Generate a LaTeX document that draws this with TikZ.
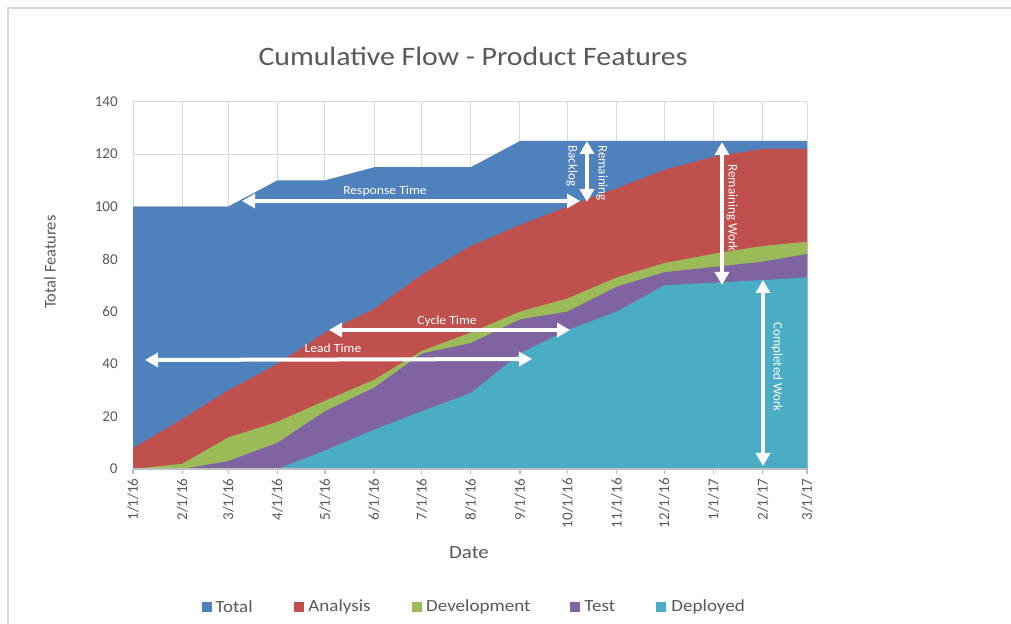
\documentclass[tikz,border=0pt]{standalone}
\usepackage{fontspec}
\setmainfont{Carlito}
\usetikzlibrary{arrows.meta}
\definecolor{cTotal}{HTML}{4F81BD}
\definecolor{cAna}{HTML}{C0504D}
\definecolor{cDev}{HTML}{9BBB59}
\definecolor{cTest}{HTML}{8064A2}
\definecolor{cDep}{HTML}{4BACC6}
\definecolor{txtgray}{HTML}{595959}
\definecolor{gridgray}{HTML}{D9D9D9}
\definecolor{axisgray}{HTML}{BFBFBF}
\definecolor{framegray}{HTML}{D6D6D6}
\begin{document}
\begin{tikzpicture}[x=0.5pt,y=-0.5pt,
  whitearrow/.style={draw=white, line width=2pt,
    {Triangle[length=6.5pt,width=7pt]}-{Triangle[length=6.5pt,width=7pt]}},
  annot/.style={text=white, font=\fontsize{6.2}{7}\selectfont, inner sep=0pt, xscale=1.1},
  rannot/.style={text=white, font=\fontsize{6.5}{7}\selectfont, inner sep=0pt, rotate=-90},
  ticklab/.style={text=txtgray, font=\fontsize{7.5}{9}\selectfont, inner sep=0pt},
  gridline/.style={draw=gridgray, line width=0.5pt},
  axisline/.style={draw=axisgray, line width=0.6pt},
  legsq/.style={minimum size=5pt, inner sep=0pt},
  legtxt/.style={text=txtgray, font=\fontsize{8.5}{10}\selectfont, inner sep=0pt, anchor=west, xscale=1.12},
  titlestyle/.style={text=txtgray, font=\fontsize{13.3}{16}\selectfont, inner sep=0pt, xscale=1.12},
  axtitle/.style={text=txtgray, inner sep=0pt}]
\useasboundingbox (0,0) rectangle (1011,624);
\fill[white] (0,0) rectangle (1011,624);
\draw[framegray, line width=1pt] (8,624) -- (8,8.5) -- (1011,8.5);

\node[titlestyle] (title) at (473,56) {Cumulative Flow - Product Features};
\node[axtitle, rotate=90, font=\fontsize{8.2}{10}\selectfont] (ytitle) at (50,262) {Total Features};
\node[axtitle, font=\fontsize{9.3}{11}\selectfont, xscale=1.12] (xtitle) at (469,553) {Date};

\begin{scope}[shift={(66.5pt,-234.5pt)}, x=0.793pt, y=1.312pt]
  % grid
  \foreach \d in {0,31,60,91,121,152,182,213,244,274,305,335,366,397,425}
    \draw[gridline] (\d,0) -- (\d,140);
  \foreach \v in {20,40,...,140}
    \draw[gridline] (0,\v) -- (425,\v);
  % areas
  \fill[cTotal] (0,0) -- (0,100) -- (31,100) -- (60,100) -- (91,110) -- (121,110) -- (152,115)
    -- (182,115) -- (213,115) -- (244,125) -- (274,125) -- (305,125) -- (335,125) -- (366,125)
    -- (397,125) -- (425,125) -- (425,0) -- cycle;
  \fill[cAna] (0,0) -- (0,8) -- (31,19) -- (60,30) -- (91,40) -- (121,52) -- (152,61)
    -- (182,74) -- (213,85) -- (244,93) -- (274,100) -- (305,107) -- (335,114) -- (366,119)
    -- (397,122) -- (425,122) -- (425,0) -- cycle;
  \fill[cDev] (0,0) -- (31,2) -- (60,12) -- (91,18) -- (121,26) -- (152,34)
    -- (182,45) -- (213,52) -- (244,60) -- (274,65) -- (305,73) -- (335,78.5) -- (366,82)
    -- (397,85) -- (425,86.6) -- (425,0) -- cycle;
  \fill[cTest] (0,0) -- (31,0) -- (60,3) -- (91,10) -- (121,22) -- (152,31)
    -- (182,44) -- (213,48) -- (244,57) -- (274,60) -- (305,69.5) -- (335,75) -- (366,77)
    -- (397,79) -- (425,82) -- (425,0) -- cycle;
  \fill[cDep] (91,0) -- (121,7) -- (152,15)
    -- (182,22) -- (213,29) -- (244,44) -- (274,53) -- (305,60) -- (335,70) -- (366,71)
    -- (397,72) -- (425,73) -- (425,0) -- cycle;
  % axis
  \draw[axisline] (0,0) -- (425,0);
  \foreach \d/\l in {0/{1/1/16},31/{2/1/16},60/{3/1/16},91/{4/1/16},121/{5/1/16},152/{6/1/16},
      182/{7/1/16},213/{8/1/16},244/{9/1/16},274/{10/1/16},305/{11/1/16},335/{12/1/16},
      366/{1/1/17},397/{2/1/17},425/{3/1/17}}{
    \draw[axisline] (\d,0) -- ++(0,-2.5pt);
    \node[ticklab, rotate=90, anchor=east] (xl\d) at ([yshift=-4.5pt]\d,0) {\l};
  }
  \foreach \v in {0,20,...,140}
    \node[ticklab, anchor=east] (yl\v) at ([xshift=-7.5pt]0,\v) {\v};
\end{scope}

% annotation arrows
\coordinate (rtL) at (242,201); \coordinate (rtR) at (580,201);
\coordinate (ctL) at (329,330); \coordinate (ctR) at (570,330);
\coordinate (ltL) at (145,360); \coordinate (ltR) at (532,359);
\coordinate (rbT) at (587,141); \coordinate (rbB) at (587,202);
\coordinate (rwT) at (722,142); \coordinate (rwB) at (722,285);
\coordinate (cwT) at (763,280); \coordinate (cwB) at (763,466);
\draw[whitearrow] (rtL) -- (rtR);
\draw[whitearrow] (ctL) -- (ctR);
\draw[whitearrow] (ltL) -- (ltR);
\draw[whitearrow] (rbT) -- (rbB);
\draw[whitearrow] (rwT) -- (rwB);
\draw[whitearrow] (cwT) -- (cwB);
\node[annot] (rtlab) at (385,191) {Response Time};
\node[annot] (ctlab) at (447,321) {Cycle Time};
\node[annot] (ltlab) at (333,348) {Lead Time};
\node[rannot] (rblab1) at (602,173) {Remaining};
\node[rannot] (rblab2) at (572,166) {Backlog};
\node[rannot] (rwlab) at (732,208) {Remaining Work};
\node[rannot] (cwlab) at (777,367) {Completed Work};

% legend
\node[legsq, fill=cTotal] (lq1) at (206.7,606.5) {};
\node[legtxt] (lt1) at (215,606.5) {Total};
\node[legsq, fill=cAna] (lq2) at (298.5,606.5) {};
\node[legtxt] (lt2) at (308,606.5) {Analysis};
\node[legsq, fill=cDev] (lq3) at (416.7,606.5) {};
\node[legtxt] (lt3) at (425.7,606.5) {Development};
\node[legsq, fill=cTest] (lq4) at (575,606.5) {};
\node[legtxt] (lt4) at (584,606.5) {Test};
\node[legsq, fill=cDep] (lq5) at (661,606.5) {};
\node[legtxt] (lt5) at (671,606.5) {Deployed};
\end{tikzpicture}
\end{document}
